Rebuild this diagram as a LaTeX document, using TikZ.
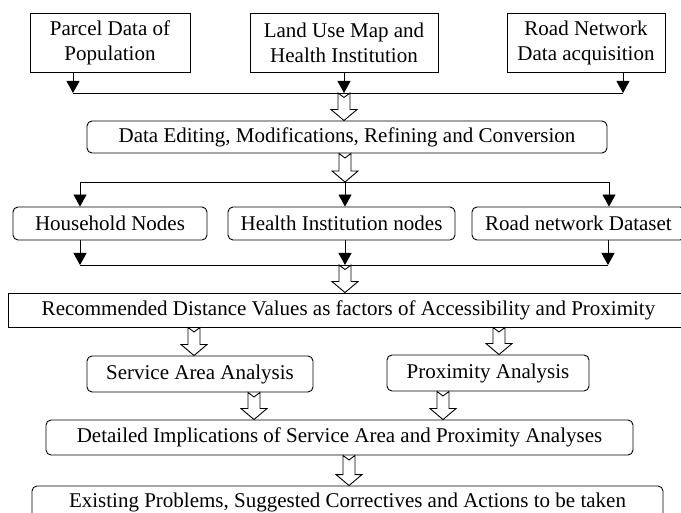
\documentclass[tikz,border=0pt]{standalone}
\usepackage{fontspec}
\setmainfont{Liberation Serif}
\usetikzlibrary{arrows.meta,calc}
\newcommand\harrow[2]{\path[hollow] let \p1=(#1), \p2=(#2) in
  (\x2-6pt,\y1) -- (\x2,\y1-4.5pt) -- (\x2+6pt,\y1) -- (\x2+6pt,\y2+11pt) --
  (\x2+13pt,\y2+11pt) -- (\x2,\y2) -- (\x2-13pt,\y2+11pt) -- (\x2-6pt,\y2+11pt) -- cycle;}
\begin{document}
\begin{tikzpicture}[x=1pt,y=-1pt,
  font=\fontsize{21}{25}\selectfont,
  sqbox/.style={draw,line width=0.9pt,inner sep=0pt,align=center},
  rbox/.style={sqbox,rounded corners=5pt},
  bus/.style={line width=0.9pt},
  drop/.style={line width=0.9pt,-{Triangle[width=13pt,length=12pt]}},
  hollow/.style={draw,fill=white,line width=0.9pt,line join=miter}]
\useasboundingbox (0,0) rectangle (681,513);
% top sources
\node[sqbox,minimum width=160pt,minimum height=59pt] (p1) at (110,42.5) {Parcel Data of\\Population};
\node[sqbox,minimum width=188pt,minimum height=59pt] (p2) at (344,42.5) {Land Use Map and\\Health Institution};
\node[sqbox,minimum width=158pt,minimum height=59pt] (p3) at (586,42.5) {Road Network\\Data acquisition};
\node[rbox,minimum width=520pt,minimum height=32pt] (de) at (347,137) {Data Editing, Modifications, Refining and Conversion};
\node[rbox,minimum width=194pt,minimum height=33pt] (hh) at (110,223.5) {Household Nodes};
\node[rbox,minimum width=227pt,minimum height=33pt] (hi) at (341.5,223.5) {Health Institution nodes};
\node[rbox,minimum width=213pt,minimum height=33pt] (rn) at (578.5,223.5) {Road network Dataset};
\node[sqbox,minimum width=681pt,minimum height=34pt] (rec) at (348.5,310) {Recommended Distance Values as factors of Accessibility and Proximity};
\node[rbox,minimum width=226pt,minimum height=36pt] (sa) at (200,374) {Service Area Analysis};
\node[rbox,minimum width=202pt,minimum height=36pt] (pa) at (488,373) {Proximity Analysis};
\node[rbox,minimum width=587pt,minimum height=35pt] (di) at (339.5,437.5) {Detailed Implications of Service Area and Proximity Analyses};
\node[rbox,minimum width=631pt,minimum height=32pt] (ep) at (347.5,502) {Existing Problems, Suggested Correctives and Actions to be taken};
% bus levels
\coordinate (b1) at (0,93);
\coordinate (b2) at (0,182);
\coordinate (b3) at (0,265);
% top drops
\coordinate (s1) at ([xshift=-37pt]p1.south);
\coordinate (s2) at (p2.south);
\coordinate (s3) at ([xshift=37pt]p3.south);
\draw[bus] (s1 |- b1) -- (s3 |- b1);
\draw[drop] (s1) -- (s1 |- b1);
\draw[drop] (s2) -- (s2 |- b1);
\draw[drop] (s3) -- (s3 |- b1);
% middle drops
\coordinate (m1) at ([xshift=-30pt]hh.north);
\coordinate (m2) at ([xshift=3.5pt]hi.north);
\coordinate (m3) at ([xshift=30.5pt]rn.north);
\draw[bus] (m1 |- b2) -- (m3 |- b2);
\draw[drop] (m1 |- b2) -- (m1);
\draw[drop] (m2 |- b2) -- (m2);
\draw[drop] (m3 |- b2) -- (m3);
% lower drops
\coordinate (l1) at ([xshift=-30pt]hh.south);
\coordinate (l2) at ([xshift=3.5pt]hi.south);
\coordinate (l3) at ([xshift=29.5pt]rn.south);
\draw[bus] (l1 |- b3) -- (l3 |- b3);
\draw[drop] (l1) -- (l1 |- b3);
\draw[drop] (l2) -- (l2 |- b3);
\draw[drop] (l3) -- (l3 |- b3);
% hollow arrows
\coordinate (h1) at ([xshift=-3pt]de.north);
\harrow{h1 |- b1}{h1}
\coordinate (h2) at ([xshift=-2pt]de.south);
\harrow{h2}{h2 |- b2}
\coordinate (h3) at ([xshift=-3.5pt]rec.north);
\harrow{h3 |- b3}{h3}
\coordinate (h4) at ([xshift=-6pt]sa.north);
\harrow{h4 |- rec.south}{h4}
\coordinate (h5) at ([xshift=11pt]pa.north);
\harrow{h5 |- rec.south}{h5}
\coordinate (h6) at ([xshift=-85.5pt]di.north);
\harrow{h6 |- sa.south}{h6}
\coordinate (h7) at ([xshift=103.5pt]di.north);
\harrow{h7 |- pa.south}{h7}
\coordinate (h8) at ([xshift=1.5pt]ep.north);
\harrow{h8 |- di.south}{h8}
\end{tikzpicture}
\end{document}
